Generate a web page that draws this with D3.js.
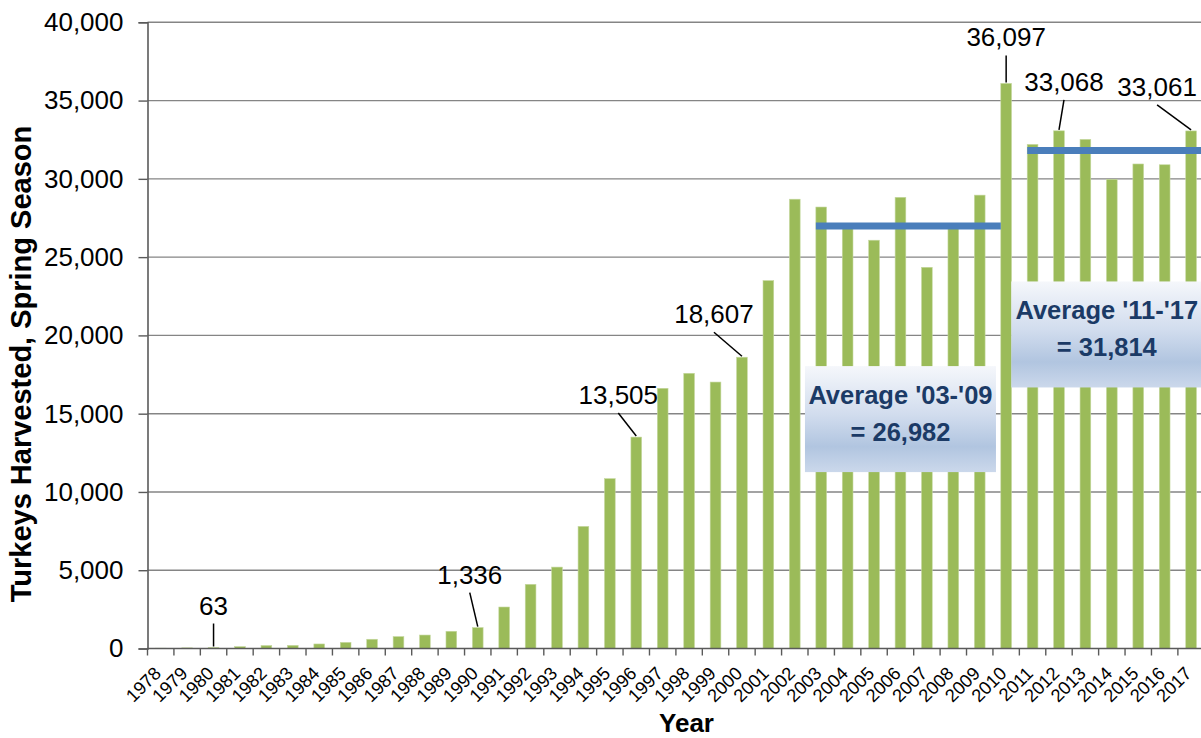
<!DOCTYPE html>
<html>
<head>
<meta charset="utf-8">
<script src="https://cdn.jsdelivr.net/npm/d3@7"></script>
<style>
  html, body { margin: 0; padding: 0; background: #ffffff; }
  svg { display: block; }
  text { font-family: "Liberation Sans", Arial, sans-serif; }
</style>
</head>
<body>
<svg id="chart" width="1201" height="738"></svg>
<script>
// Spring season turkey harvest, 1978-2017
const years = d3.range(1978, 2018).map(String);
const harvest = [
  20, 40, 63, 120, 190, 200, 290, 390, 590, 760,
  860, 1100, 1336, 2650, 4100, 5200, 7800, 10850, 13505, 16620,
  17580, 17020, 18607, 23500, 28700, 28200, 26950, 26080, 28820, 24350,
  27050, 28960, 36097, 32200, 33068, 32520, 29970, 30950, 30900, 33061
];
const yTicks = [0, 5000, 10000, 15000, 20000, 25000, 30000, 35000, 40000];

// Years whose bars carry a value label
const labelledYears = ["1980", "1990", "1996", "2000", "2010", "2012", "2017"];

// Period averages
const avgPeriods = ["2003-2009", "2011-2017"];
const avgStart = ["2003", "2011"];
const avgEnd = ["2009", "2017"];
const avgValues = [26982, 31814];
const avgTitles = ["Average '03-'09", "Average '11-'17"];

const data = years.map((yr, i) => ({ year: yr, value: harvest[i] }));

const svg = d3.select("#chart");
const plotLeft = 147.5, plotTop = 22.3, plotBottom = 648.5;
const step = 26.42;
const plotRight = plotLeft + step * years.length;

const x = d3.scaleBand()
  .domain(years)
  .range([plotLeft, plotRight])
  .paddingInner(0.595)
  .paddingOuter(0.2975);
const y = d3.scaleLinear().domain([0, 40000]).range([plotBottom, plotTop]);
const fmt = d3.format(",");

// Gradient for the average boxes
const defs = svg.append("defs");
const grad = defs.append("linearGradient")
  .attr("id", "boxGrad").attr("x1", 0).attr("y1", 0).attr("x2", 0).attr("y2", 1);
grad.append("stop").attr("offset", "0%").attr("stop-color", "#f5f7fb");
grad.append("stop").attr("offset", "45%").attr("stop-color", "#d2ddee");
grad.append("stop").attr("offset", "76%").attr("stop-color", "#b1c5e0");
grad.append("stop").attr("offset", "100%").attr("stop-color", "#cbd8eb");

// Horizontal gridlines
svg.append("g")
  .selectAll("line")
  .data(yTicks.filter(t => t > 0))
  .join("line")
  .attr("x1", plotLeft).attr("x2", 1201)
  .attr("y1", d => y(d)).attr("y2", d => y(d))
  .attr("stroke", "#858585").attr("stroke-width", 1.4);

// Bars
svg.append("g")
  .selectAll("rect")
  .data(data)
  .join("rect")
  .attr("x", d => x(d.year))
  .attr("width", x.bandwidth())
  .attr("y", d => y(d.value))
  .attr("height", d => y(0) - y(d.value))
  .attr("fill", "#9bbb59")
  .attr("stroke", "#c5d89f")
  .attr("stroke-width", 0.6);

// Y axis
const yAxis = d3.axisLeft(y)
  .tickValues(yTicks)
  .tickFormat(fmt)
  .tickSize(9)
  .tickPadding(15);
const gy = svg.append("g")
  .attr("transform", `translate(${plotLeft},0)`)
  .call(yAxis);
gy.select(".domain").attr("stroke", "#5a5a5a").attr("stroke-width", 1.6);
gy.selectAll(".tick line").attr("stroke", "#5a5a5a").attr("stroke-width", 1.4);
gy.selectAll(".tick text")
  .attr("font-family", "'Liberation Sans', Arial, sans-serif")
  .attr("font-size", 26)
  .attr("fill", "#000");

// X axis: ticks sit on category boundaries
const boundaries = years.map(yr => x(yr) - (x.step() - x.bandwidth()) / 2)
  .concat([plotRight]);
const gx = svg.append("g");
gx.append("line")
  .attr("x1", plotLeft).attr("x2", 1201)
  .attr("y1", plotBottom).attr("y2", plotBottom)
  .attr("stroke", "#5a5a5a").attr("stroke-width", 1.6);
gx.selectAll("line.tick")
  .data(boundaries)
  .join("line")
  .attr("class", "tick")
  .attr("x1", d => d).attr("x2", d => d)
  .attr("y1", plotBottom).attr("y2", plotBottom + 7)
  .attr("stroke", "#5a5a5a").attr("stroke-width", 1.4);
gx.selectAll("text")
  .data(years)
  .join("text")
  .attr("transform", d => `translate(${x(d) + x.bandwidth() / 2 + 1.5},${plotBottom + 26}) rotate(-45)`)
  .attr("text-anchor", "end")
  .attr("font-size", 18.3)
  .attr("fill", "#000")
  .text(d => d);

// Axis titles
svg.append("text")
  .attr("transform", `translate(31,364) rotate(-90)`)
  .attr("text-anchor", "middle")
  .attr("font-size", 29)
  .attr("font-weight", "bold")
  .text("Turkeys Harvested, Spring Season");
svg.append("text")
  .attr("x", 686.5).attr("y", 732)
  .attr("text-anchor", "middle")
  .attr("font-size", 26)
  .attr("font-weight", "bold")
  .text("Year");

// Value labels with leader lines (offsets of the label from the bar top)
const labelOffset = {
  "1980": [0, -33],
  "1990": [-8, -44],
  "1996": [-18, -33],
  "2000": [-28, -34],
  "2010": [0, -37],
  "2012": [5, -40],
  "2017": [-34, -35]
};
const labelled = data.filter(d => labelledYears.includes(d.year));
const lg = svg.append("g");
labelled.forEach(d => {
  const bx = x(d.year) + x.bandwidth() / 2;
  const by = y(d.value);
  const [dx, dy] = labelOffset[d.year];
  lg.append("line")
    .attr("x1", bx + dx).attr("y1", by + dy + 9)
    .attr("x2", bx).attr("y2", by - 1)
    .attr("stroke", "#000").attr("stroke-width", 1.5);
  lg.append("text")
    .attr("x", bx + dx).attr("y", by + dy)
    .attr("text-anchor", "middle")
    .attr("font-size", 26)
    .attr("fill", "#000")
    .text(fmt(d.value));
});

// Average lines and their boxes
const boxOffset = [140, 131];
const boxShift = [0, -5];
avgPeriods.forEach((p, i) => {
  const x0 = x(avgStart[i]);
  const x1 = x(avgEnd[i]) + x.step();
  const ly = y(avgValues[i]);
  svg.append("line")
    .attr("x1", x0).attr("x2", x1)
    .attr("y1", ly).attr("y2", ly)
    .attr("stroke", "#4a7ebb").attr("stroke-width", 7);
  const cx = (x(avgStart[i]) + x(avgEnd[i]) + x.bandwidth()) / 2 + boxShift[i];
  const bw = 191, bh = 106;
  const by = ly + boxOffset[i];
  svg.append("rect")
    .attr("x", cx - bw / 2).attr("y", by)
    .attr("width", bw).attr("height", bh)
    .attr("fill", "url(#boxGrad)");
  const t = svg.append("text")
    .attr("text-anchor", "middle")
    .attr("font-family", "Lato, 'Open Sans', sans-serif")
    .attr("font-weight", "bold")
    .attr("font-size", 25.5)
    .attr("fill", "#1b3a66");
  t.append("tspan").attr("x", cx).attr("y", by + 38).text(avgTitles[i]);
  t.append("tspan").attr("x", cx).attr("y", by + 75).text("= " + fmt(avgValues[i]));
});
</script>
</body>
</html>
